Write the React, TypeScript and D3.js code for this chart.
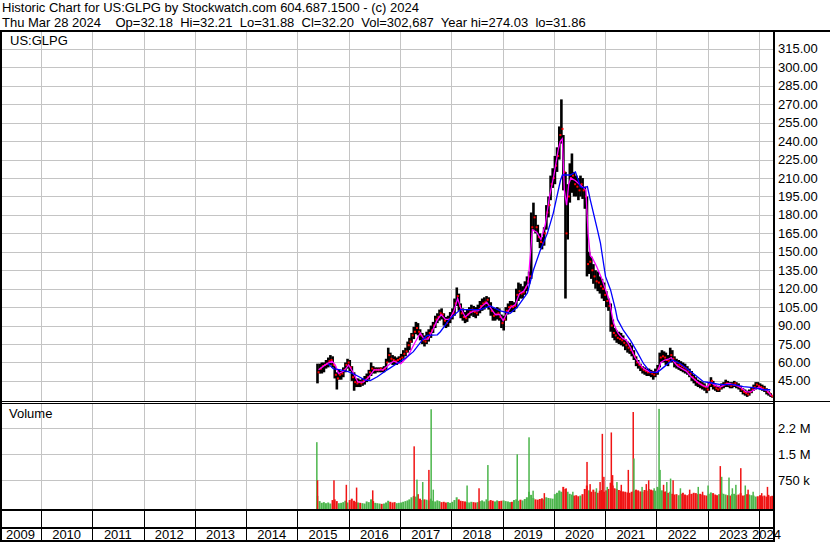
import React from "react";
import * as d3 from "d3";

const FONT = "'Liberation Sans', Arial, Helvetica, sans-serif";

const titleLine1 = "Historic Chart for US:GLPG by Stockwatch.com 604.687.1500 - (c) 2024";
const titleLine2 = "Thu Mar 28 2024    Op=32.18  Hi=32.21  Lo=31.88  Cl=32.20  Vol=302,687  Year hi=274.03  lo=31.86";
const symbolLabel = "US:GLPG";
const volumeLabel = "Volume";

const yearLabels = [2009, 2010, 2011, 2012, 2013, 2014, 2015, 2016, 2017, 2018, 2019, 2020, 2021, 2022, 2023, 2024];
const priceTicks = [45, 60, 75, 90, 105, 120, 135, 150, 165, 180, 195, 210, 225, 240, 255, 270, 285, 300, 315];
const volTicks = [750000, 1500000, 2250000];
const volTickLabels = ["750 k", "1.5 M", "2.2 M"];

// [date, high, low, close, volume (thousands)] — semi-monthly readings
const ohlcv: [string, number, number, number, number][] = [
  ["2015-05-16", 59, 43, 52, 300], ["2015-06-01", 59, 51, 55, 150], ["2015-06-16", 60, 51, 57, 100],
  ["2015-07-01", 60, 52, 58, 120], ["2015-07-16", 62, 55, 59, 90], ["2015-08-01", 64, 56, 61, 110],
  ["2015-08-16", 66, 58, 62, 80], ["2015-09-01", 65, 56, 58, 180], ["2015-09-16", 57, 47, 50, 200],
  ["2015-10-01", 52, 38, 47, 150], ["2015-10-16", 54, 46, 50, 90], ["2015-11-01", 53, 46, 51, 100],
  ["2015-11-16", 56, 48, 54, 120], ["2015-12-01", 60, 52, 58, 160], ["2015-12-16", 63, 55, 60, 110],
  ["2016-01-01", 62, 53, 56, 180], ["2016-01-16", 57, 45, 48, 220], ["2016-02-01", 52, 37, 44, 160],
  ["2016-02-16", 47, 40, 43, 130], ["2016-03-01", 47, 40, 44, 110], ["2016-03-16", 46, 40, 43, 100],
  ["2016-04-01", 47, 41, 45, 90], ["2016-04-16", 49, 42, 46, 80], ["2016-05-01", 51, 44, 48, 140],
  ["2016-05-16", 54, 46, 52, 120], ["2016-06-01", 60, 49, 55, 200], ["2016-06-16", 57, 51, 54, 150],
  ["2016-07-01", 56, 51, 54, 100], ["2016-07-16", 56, 52, 54, 90], ["2016-08-01", 56, 52, 55, 80],
  ["2016-08-16", 56, 52, 54, 70], ["2016-09-01", 57, 52, 55, 80], ["2016-09-16", 63, 54, 60, 110],
  ["2016-10-01", 72, 60, 66, 160], ["2016-10-16", 68, 60, 63, 130], ["2016-11-01", 66, 58, 62, 110],
  ["2016-11-16", 65, 58, 61, 120], ["2016-12-01", 64, 58, 62, 90], ["2016-12-16", 65, 59, 63, 100],
  ["2017-01-01", 67, 60, 64, 110], ["2017-01-16", 70, 63, 67, 130], ["2017-02-01", 72, 65, 69, 150],
  ["2017-02-16", 77, 68, 74, 170], ["2017-03-01", 80, 70, 77, 200], ["2017-03-16", 84, 76, 82, 260],
  ["2017-04-01", 89, 79, 85, 300], ["2017-04-16", 93, 83, 88, 280], ["2017-05-01", 92, 82, 85, 350],
  ["2017-05-16", 87, 78, 82, 220], ["2017-06-01", 84, 75, 78, 180], ["2017-06-16", 82, 73, 77, 200],
  ["2017-07-01", 85, 75, 80, 190], ["2017-07-16", 87, 77, 84, 170], ["2017-08-01", 90, 80, 86, 220],
  ["2017-08-16", 93, 84, 90, 160], ["2017-09-01", 98, 88, 95, 140], ["2017-09-16", 100, 92, 97, 170],
  ["2017-10-01", 103, 94, 100, 150], ["2017-10-16", 104, 95, 99, 120], ["2017-11-01", 100, 90, 94, 130],
  ["2017-11-16", 97, 88, 92, 110], ["2017-12-01", 98, 89, 95, 120], ["2017-12-16", 101, 92, 97, 100],
  ["2018-01-01", 104, 95, 100, 130], ["2018-01-16", 112, 98, 108, 180], ["2018-02-01", 121, 106, 114, 260],
  ["2018-02-16", 116, 102, 106, 200], ["2018-03-01", 108, 96, 100, 160], ["2018-03-16", 104, 94, 97, 150],
  ["2018-04-01", 101, 92, 96, 140], ["2018-04-16", 103, 93, 99, 120], ["2018-05-01", 105, 96, 101, 110],
  ["2018-05-16", 107, 98, 103, 130], ["2018-06-01", 106, 97, 101, 120], ["2018-06-16", 105, 96, 100, 110],
  ["2018-07-01", 107, 98, 103, 120], ["2018-07-16", 110, 100, 106, 150], ["2018-08-01", 112, 102, 108, 170],
  ["2018-08-16", 113, 103, 109, 140], ["2018-09-01", 114, 105, 111, 200], ["2018-09-16", 113, 103, 106, 150],
  ["2018-10-01", 109, 98, 102, 180], ["2018-10-16", 105, 94, 98, 160], ["2018-11-01", 104, 94, 99, 140],
  ["2018-11-16", 105, 95, 100, 170], ["2018-12-01", 104, 94, 97, 150], ["2018-12-16", 99, 88, 92, 160],
  ["2019-01-01", 98, 86, 95, 170], ["2019-01-16", 105, 94, 102, 150], ["2019-02-01", 108, 99, 105, 140],
  ["2019-02-16", 110, 101, 106, 120], ["2019-03-01", 110, 101, 105, 130], ["2019-03-16", 109, 101, 106, 180],
  ["2019-04-01", 120, 104, 115, 200], ["2019-04-16", 125, 110, 118, 160], ["2019-05-01", 124, 112, 116, 190],
  ["2019-05-16", 122, 112, 117, 170], ["2019-06-01", 126, 115, 121, 210], ["2019-06-16", 130, 118, 126, 260],
  ["2019-07-01", 134, 124, 130, 420], ["2019-07-16", 182, 128, 170, 330], ["2019-08-01", 190, 168, 178, 240],
  ["2019-08-16", 180, 165, 170, 200], ["2019-09-01", 172, 158, 162, 190], ["2019-09-16", 165, 153, 158, 210],
  ["2019-10-01", 162, 152, 157, 230], ["2019-10-16", 170, 155, 165, 200], ["2019-11-01", 188, 168, 182, 260],
  ["2019-11-16", 195, 178, 188, 240], ["2019-12-01", 212, 192, 205, 230], ["2019-12-16", 218, 202, 210, 220],
  ["2020-01-01", 228, 205, 220, 350], ["2020-01-16", 235, 215, 228, 390], ["2020-02-01", 252, 225, 245, 450],
  ["2020-02-16", 274, 238, 250, 420], ["2020-03-01", 245, 200, 215, 560], ["2020-03-16", 215, 112, 165, 500],
  ["2020-04-01", 205, 160, 195, 420], ["2020-04-16", 222, 190, 210, 360], ["2020-05-01", 230, 198, 212, 340],
  ["2020-05-16", 215, 195, 205, 310], ["2020-06-01", 212, 195, 203, 320], ["2020-06-16", 210, 192, 200, 290],
  ["2020-07-01", 212, 195, 205, 310], ["2020-07-16", 210, 193, 200, 350], ["2020-08-01", 203, 185, 195, 500],
  ["2020-08-16", 195, 130, 140, 600], ["2020-09-01", 150, 132, 142, 460], ["2020-09-16", 146, 128, 135, 420],
  ["2020-10-01", 140, 124, 130, 480], ["2020-10-16", 135, 120, 126, 420], ["2020-11-01", 134, 118, 125, 390],
  ["2020-11-16", 130, 116, 122, 450], ["2020-12-01", 128, 112, 120, 470], ["2020-12-16", 125, 110, 115, 420],
  ["2021-01-01", 118, 105, 110, 460], ["2021-01-16", 112, 102, 106, 500], ["2021-02-01", 108, 85, 90, 680],
  ["2021-02-16", 95, 80, 84, 600], ["2021-03-01", 88, 78, 82, 520], ["2021-03-16", 86, 76, 80, 500],
  ["2021-04-01", 85, 75, 79, 470], ["2021-04-16", 84, 74, 78, 450], ["2021-05-01", 82, 73, 76, 430],
  ["2021-05-16", 79, 70, 74, 420], ["2021-06-01", 77, 68, 72, 400], ["2021-06-16", 76, 67, 70, 390],
  ["2021-07-01", 74, 65, 68, 420], ["2021-07-16", 70, 62, 65, 450], ["2021-08-01", 65, 57, 60, 480],
  ["2021-08-16", 62, 55, 58, 460], ["2021-09-01", 59, 53, 56, 430], ["2021-09-16", 57, 51, 54, 420],
  ["2021-10-01", 56, 50, 53, 470], ["2021-10-16", 55, 49, 52, 450], ["2021-11-01", 55, 49, 52, 500],
  ["2021-11-16", 54, 48, 51, 480], ["2021-12-01", 53, 46, 50, 460], ["2021-12-16", 55, 48, 52, 450],
  ["2022-01-01", 58, 50, 55, 560], ["2022-01-16", 68, 56, 64, 520], ["2022-02-01", 70, 60, 65, 460],
  ["2022-02-16", 69, 60, 64, 420], ["2022-03-01", 68, 58, 62, 430], ["2022-03-16", 66, 57, 61, 390],
  ["2022-04-01", 72, 60, 66, 420], ["2022-04-16", 70, 60, 63, 360], ["2022-05-01", 65, 56, 60, 340],
  ["2022-05-16", 63, 55, 58, 350], ["2022-06-01", 62, 54, 58, 320], ["2022-06-16", 61, 53, 57, 360],
  ["2022-07-01", 60, 52, 56, 390], ["2022-07-16", 59, 51, 55, 340], ["2022-08-01", 57, 50, 53, 320],
  ["2022-08-16", 55, 48, 51, 350], ["2022-09-01", 53, 45, 48, 360], ["2022-09-16", 50, 43, 46, 390],
  ["2022-10-01", 48, 41, 44, 380], ["2022-10-16", 46, 40, 43, 350], ["2022-11-01", 45, 39, 42, 360],
  ["2022-11-16", 44, 38, 41, 340], ["2022-12-01", 43, 37, 40, 320], ["2022-12-16", 41, 35, 38, 310],
  ["2023-01-01", 44, 37, 42, 360], ["2023-01-16", 48, 40, 45, 400], ["2023-02-01", 45, 38, 41, 380],
  ["2023-02-16", 42, 37, 39, 340], ["2023-03-01", 41, 36, 38, 320], ["2023-03-16", 41, 36, 39, 350],
  ["2023-04-01", 43, 38, 41, 390], ["2023-04-16", 44, 39, 42, 360], ["2023-05-01", 46, 40, 43, 340],
  ["2023-05-16", 45, 40, 42, 320], ["2023-06-01", 44, 39, 41, 310], ["2023-06-16", 44, 39, 42, 350],
  ["2023-07-01", 45, 40, 43, 360], ["2023-07-16", 44, 39, 41, 320], ["2023-08-01", 43, 38, 40, 340],
  ["2023-08-16", 41, 36, 38, 380], ["2023-09-01", 39, 34, 36, 310], ["2023-09-16", 38, 33, 35, 320],
  ["2023-10-01", 37, 32, 34, 350], ["2023-10-16", 38, 33, 36, 340], ["2023-11-01", 40, 35, 38, 320],
  ["2023-11-16", 42, 37, 40, 310], ["2023-12-01", 44, 38, 42, 280], ["2023-12-16", 44, 39, 41, 290],
  ["2024-01-01", 43, 38, 40, 320], ["2024-01-16", 42, 37, 39, 290], ["2024-02-01", 41, 36, 38, 310],
  ["2024-02-16", 39, 34, 36, 280], ["2024-03-01", 37, 33, 35, 330], ["2024-03-16", 35, 31.9, 33, 290],
  ["2024-03-28", 32.21, 31.88, 32.2, 303],
];

// short moving average (magenta)
const maShort: [string, number][] = [
  ["2015-06-01", 54], ["2015-07-05", 57], ["2015-08-01", 59], ["2015-09-05", 61], ["2015-09-27", 58],
  ["2015-10-21", 51], ["2015-11-28", 53], ["2016-01-01", 58], ["2016-01-27", 53], ["2016-03-06", 44],
  ["2016-04-14", 44], ["2016-05-23", 48], ["2016-06-30", 54], ["2016-09-01", 54], ["2016-10-22", 59],
  ["2016-11-16", 61], ["2017-01-06", 59], ["2017-02-26", 65], ["2017-04-16", 76], ["2017-05-25", 84],
  ["2017-06-20", 79], ["2017-07-20", 79], ["2017-08-20", 86], ["2017-09-20", 94], ["2017-10-20", 99],
  ["2017-11-20", 95], ["2017-12-20", 95], ["2018-01-20", 102], ["2018-02-15", 112], ["2018-03-10", 104],
  ["2018-04-10", 97], ["2018-05-10", 100], ["2018-06-10", 102], ["2018-07-10", 102], ["2018-08-10", 106],
  ["2018-09-10", 109], ["2018-10-10", 104], ["2018-11-10", 99], ["2018-12-10", 99], ["2019-01-05", 94],
  ["2019-02-01", 100], ["2019-03-01", 105], ["2019-04-01", 107], ["2019-05-01", 116], ["2019-06-01", 118],
  ["2019-07-01", 124], ["2019-07-16", 145], ["2019-08-01", 168], ["2019-09-01", 166], ["2019-10-01", 160],
  ["2019-11-01", 172], ["2019-12-01", 195], ["2020-01-01", 212], ["2020-02-01", 233], ["2020-02-16", 240],
  ["2020-03-01", 242], ["2020-03-16", 200], ["2020-04-01", 188], ["2020-04-16", 205], ["2020-05-01", 210],
  ["2020-06-01", 208], ["2020-07-01", 205], ["2020-08-01", 202], ["2020-08-16", 200], ["2020-09-01", 165],
  ["2020-09-16", 147], ["2020-10-01", 145], ["2020-11-01", 138], ["2020-12-01", 130], ["2021-01-01", 120],
  ["2021-02-01", 110], ["2021-02-16", 100], ["2021-03-01", 92], ["2021-04-01", 84], ["2021-05-01", 80],
  ["2021-06-01", 78], ["2021-07-01", 72], ["2021-08-01", 64], ["2021-09-01", 59], ["2021-10-01", 55],
  ["2021-11-01", 53], ["2021-12-01", 52], ["2022-01-01", 52], ["2022-01-16", 55], ["2022-02-01", 60],
  ["2022-03-01", 62], ["2022-04-01", 63], ["2022-04-16", 64], ["2022-05-01", 61], ["2022-06-01", 57],
  ["2022-07-01", 55], ["2022-08-01", 53], ["2022-09-01", 49], ["2022-10-01", 46], ["2022-11-01", 43],
  ["2022-12-01", 41], ["2023-01-01", 40], ["2023-01-16", 44], ["2023-02-01", 43], ["2023-03-01", 41],
  ["2023-04-01", 40], ["2023-05-01", 42], ["2023-06-01", 43], ["2023-07-01", 42], ["2023-08-01", 41],
  ["2023-09-01", 39], ["2023-10-01", 36], ["2023-11-01", 36], ["2023-12-01", 38], ["2024-01-01", 40],
  ["2024-02-01", 38], ["2024-03-01", 37], ["2024-03-28", 33],
];

// long moving average (blue)
const maLong: [string, number][] = [
  ["2015-08-08", 59], ["2015-09-13", 55], ["2015-11-02", 54], ["2015-12-29", 52.5], ["2016-02-17", 50],
  ["2016-04-28", 45.7], ["2016-06-03", 45.2], ["2016-07-23", 48.4], ["2016-10-02", 54], ["2016-12-13", 59.3],
  ["2017-02-08", 63.4], ["2017-04-06", 68.8], ["2017-06-09", 78.3], ["2017-07-14", 82], ["2017-09-23", 82.5],
  ["2017-10-15", 85], ["2017-12-25", 96], ["2018-03-07", 103], ["2018-05-17", 103], ["2018-07-27", 103],
  ["2018-10-06", 106], ["2018-12-16", 102], ["2019-02-25", 100], ["2019-04-16", 105], ["2019-06-27", 116.5],
  ["2019-08-08", 135], ["2019-09-27", 151.5], ["2019-11-16", 165], ["2019-12-28", 181.5], ["2020-02-17", 208],
  ["2020-03-02", 212.5], ["2020-04-28", 212.5], ["2020-06-03", 215], ["2020-07-08", 203], ["2020-07-30", 202],
  ["2020-08-27", 203], ["2020-09-17", 192], ["2020-11-06", 168], ["2020-11-28", 157], ["2021-01-03", 130],
  ["2021-02-08", 119], ["2021-03-15", 103], ["2021-03-29", 95], ["2021-05-11", 86], ["2021-06-30", 78],
  ["2021-08-19", 68], ["2021-10-01", 59], ["2021-11-20", 52], ["2022-01-08", 52], ["2022-02-20", 56],
  ["2022-04-24", 62], ["2022-06-20", 59], ["2022-08-16", 54], ["2022-10-19", 48.4], ["2022-12-01", 44.4],
  ["2023-01-20", 43.5], ["2023-04-01", 42], ["2023-07-02", 42], ["2023-09-12", 40.3], ["2023-11-22", 39.5],
  ["2024-02-01", 37.8], ["2024-03-22", 37.8],
];

// single-day volume spikes (thousands), g = up day, r = down day
const volSpikes: [string, number, string][] = [
  ["2015-05-14", 1850, "g"], ["2015-05-19", 750, "r"], ["2015-09-13", 750, "r"], ["2015-12-10", 620, "r"],
  ["2016-02-21", 540, "r"], ["2016-06-15", 460, "r"], ["2017-04-06", 1730, "r"], ["2017-04-26", 770, "g"],
  ["2017-06-06", 700, "g"], ["2017-07-20", 1050, "r"], ["2017-08-05", 2800, "g"], ["2017-08-20", 480, "g"],
  ["2018-04-18", 600, "g"], ["2018-07-12", 520, "r"], ["2018-09-13", 1190, "g"], ["2019-04-10", 1500, "g"],
  ["2019-07-03", 1990, "g"], ["2019-08-01", 450, "g"], ["2019-10-20", 380, "r"], ["2020-02-05", 450, "g"],
  ["2020-03-23", 520, "r"], ["2020-05-10", 420, "g"], ["2020-08-19", 1280, "r"], ["2020-09-10", 640, "r"],
  ["2020-10-25", 520, "g"], ["2020-11-20", 700, "r"], ["2020-12-06", 2090, "r"], ["2020-12-17", 850, "r"],
  ["2021-01-10", 560, "g"], ["2021-02-08", 2130, "r"], ["2021-02-17", 900, "r"], ["2021-03-20", 700, "g"],
  ["2021-04-20", 620, "r"], ["2021-06-09", 1050, "r"], ["2021-07-14", 2720, "r"], ["2021-07-19", 1380, "g"],
  ["2021-09-15", 560, "g"], ["2021-10-15", 640, "r"], ["2021-11-01", 750, "r"], ["2021-12-10", 520, "g"],
  ["2022-01-14", 2810, "g"], ["2022-01-21", 1050, "g"], ["2022-02-15", 620, "r"], ["2022-03-10", 700, "g"],
  ["2022-04-06", 800, "g"], ["2022-04-24", 750, "r"], ["2022-06-15", 520, "g"], ["2022-08-20", 480, "r"],
  ["2022-10-20", 560, "g"], ["2022-11-20", 420, "r"], ["2022-12-29", 600, "g"], ["2023-03-26", 1160, "r"],
  ["2023-04-05", 850, "g"], ["2023-05-27", 830, "g"], ["2023-06-20", 520, "g"], ["2023-07-15", 620, "g"],
  ["2023-08-19", 1100, "r"], ["2023-09-20", 600, "g"], ["2023-10-10", 480, "r"], ["2023-11-15", 420, "g"],
  ["2024-01-15", 380, "r"], ["2024-02-25", 560, "r"],
];

const GREEN = "#4cb64c";
const RED = "#f01414";
const GRID = "#c4c4c4";

export default function App() {
  const parse = d3.timeParse("%Y-%m-%d");
  const x = d3.scaleTime().domain([new Date(2010, 0, 1), new Date(2024, 0, 1)]).range([41, 759]);
  const y = d3.scaleLinear().domain([30, 315]).range([399.34, 48.98]);
  const yv = d3.scaleLinear().domain([0, 2250000]).range([506.3, 428.3]);
  const fmt = d3.format(".2f");

  const plotL = 2, plotR = 773, plotT = 32, plotB = 401;
  const volT = 404, volB = 509;

  const line = d3
    .line<[string, number]>()
    .x((d) => x(parse(d[0]) as Date))
    .y((d) => y(d[1]))
    .curve(d3.curveLinear);

  const yearBounds = yearLabels.map((yr) => {
    const a = Math.max(0, x(new Date(yr, 0, 1)));
    const b = Math.min(plotR + 1, x(new Date(yr + 1, 0, 1)));
    return { yr, a, b };
  });
  const gridYears = yearLabels.slice(1);

  return (
    <svg
      width={830}
      height={543}
      style={{ position: "fixed", left: 0, top: 0, background: "#fff" }}
      fontFamily={FONT}
    >
      <rect x={0} y={0} width={830} height={543} fill="#fff" />
      <defs>
        <clipPath id="plotClip">
          <rect x={plotL} y={plotT} width={plotR - plotL} height={plotB - plotT} />
        </clipPath>
        <clipPath id="volClip">
          <rect x={plotL} y={volT} width={plotR - plotL} height={volB - volT} />
        </clipPath>
      </defs>

      {/* title */}
      <text x={2} y={12} fontSize={13} fill="#000" style={{ whiteSpace: "pre" }}>{titleLine1}</text>
      <text x={2} y={27} fontSize={13} fill="#000" style={{ whiteSpace: "pre" }}>{titleLine2}</text>

      {/* grid: price */}
      {priceTicks.map((v) => (
        <line key={"hp" + v} x1={plotL} x2={plotR} y1={Math.round(y(v)) + 0.5} y2={Math.round(y(v)) + 0.5} stroke={GRID} strokeWidth={1} />
      ))}
      {gridYears.map((yr) => {
        const xv = Math.round(x(new Date(yr, 0, 1))) + 0.5;
        return (
          <g key={"vg" + yr}>
            <line x1={xv} x2={xv} y1={plotT} y2={plotB} stroke={GRID} strokeWidth={1} />
            <line x1={xv} x2={xv} y1={volT} y2={volB} stroke={GRID} strokeWidth={1} />
            <line x1={xv} x2={xv} y1={511} y2={527} stroke="#000" strokeWidth={1} />
            <line x1={xv} x2={xv} y1={529} y2={540} stroke="#000" strokeWidth={1} />
          </g>
        );
      })}
      {volTicks.map((v) => (
        <line key={"hv" + v} x1={plotL} x2={plotR} y1={Math.round(yv(v)) + 0.5} y2={Math.round(yv(v)) + 0.5} stroke={GRID} strokeWidth={1} />
      ))}

      {/* price bars */}
      <g clipPath="url(#plotClip)">
        {ohlcv.map(([d, h, l]) => {
          const xx = x(parse(d) as Date);
          return <rect key={"b" + d} x={xx - 0.2} y={y(h)} width={2.6} height={Math.max(1, y(l) - y(h))} fill="#000" />;
        })}
        {ohlcv.map(([d, , , c]) => {
          const xx = x(parse(d) as Date);
          return <rect key={"c" + d} x={xx + 1.2} y={y(c) - 1} width={2} height={2} fill="#ff0000" />;
        })}
        <path d={line(maShort) || ""} fill="none" stroke="#ff00ff" strokeWidth={1.3} />
        <path d={line(maLong) || ""} fill="none" stroke="#0000ff" strokeWidth={1.3} />
      </g>

      {/* volume */}
      <g clipPath="url(#volClip)">
        {ohlcv.map(([d, , , c, v], i) => {
          const xx = x(parse(d) as Date);
          const up = i === 0 ? true : c >= ohlcv[i - 1][3];
          const top = yv(v * 1000);
          return <rect key={"v" + d} x={xx} y={top} width={2} height={volB - top} fill={up ? GREEN : RED} />;
        })}
        {volSpikes.map(([d, v, col]) => {
          const xx = x(parse(d) as Date);
          const top = yv(v * 1000);
          return <rect key={"s" + d} x={xx} y={top} width={1.5} height={volB - top} fill={col === "g" ? GREEN : RED} />;
        })}
      </g>

      {/* labels inside panels */}
      <text x={10} y={45} fontSize={13} fill="#000">{symbolLabel}</text>
      <text x={9} y={418} fontSize={13} fill="#000">{volumeLabel}</text>

      {/* right axis labels */}
      {priceTicks.map((v) => (
        <text key={"pl" + v} x={778} y={y(v) + 4.5} fontSize={13} fill="#000">{fmt(v)}</text>
      ))}
      {volTicks.map((v, i) => (
        <text key={"vl" + v} x={778} y={yv(v) + 4.5} fontSize={13} fill="#000">{volTickLabels[i]}</text>
      ))}

      {/* year labels */}
      {yearBounds.map(({ yr, a, b }) => (
        <text key={"yl" + yr} x={(a + b) / 2} y={539} fontSize={13} textAnchor="middle" fill="#000">{yr}</text>
      ))}

      {/* frame */}
      <rect x={0} y={30} width={830} height={2} fill="#000" />
      <rect x={0} y={30} width={2} height={512} fill="#000" />
      <rect x={773} y={30} width={2} height={512} fill="#000" />
      <rect x={0} y={401} width={830} height={1} fill="#000" />
      <rect x={0} y={403} width={775} height={1} fill="#000" />
      <rect x={0} y={509} width={775} height={2} fill="#000" />
      <rect x={0} y={527} width={775} height={2} fill="#000" />
      <rect x={0} y={540} width={775} height={2} fill="#000" />
    </svg>
  );
}
